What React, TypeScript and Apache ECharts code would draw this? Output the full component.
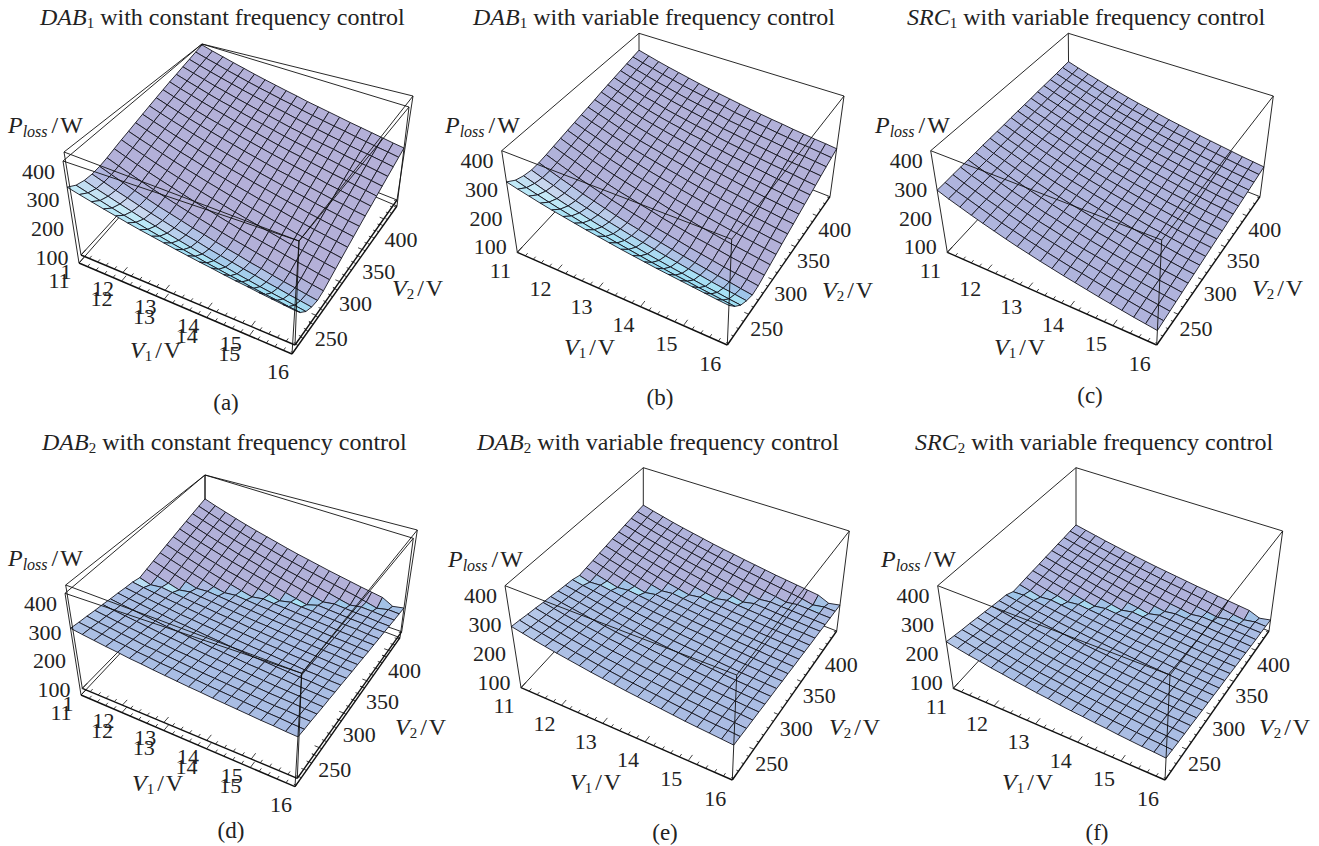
import React, { useEffect, useRef } from "react";
import * as echarts from "echarts";

const V1_TICKS = [11, 12, 13, 14, 15, 16];
const V2_TICKS = [250, 300, 350, 400];
const P_TICKS = [100, 200, 300, 400];
const V1_RANGE = [11, 16];
const V2_RANGE = [208, 432];
const P_RANGE = [77, 432];

const LOSS_A = [
[341,322,313,310,312,318,326,334,341,349,357,365,373,381,389,396,404,412,420,428],
[330,310,299,296,297,303,311,319,327,335,343,351,359,367,375,383,391,399,407,415],
[320,298,287,282,283,289,297,305,314,322,330,338,346,355,363,371,379,387,396,404],
[310,287,275,270,270,276,284,292,301,309,317,326,334,342,351,359,367,376,384,393],
[301,277,264,258,258,263,272,280,289,297,306,314,323,331,340,348,357,366,374,383],
[292,268,253,247,246,252,261,269,278,287,295,304,313,321,330,339,347,356,364,373],
[284,259,244,237,236,241,250,259,268,276,285,294,303,312,320,329,338,347,355,364],
[277,251,235,227,226,231,240,249,258,267,276,285,294,302,311,320,329,338,347,356],
[270,243,226,218,216,222,231,240,249,258,267,276,285,294,303,312,321,330,339,348],
[263,236,218,210,208,213,222,231,240,249,259,268,277,286,295,304,313,323,332,341],
[257,229,210,201,199,204,213,223,232,241,250,259,269,278,287,296,305,315,324,333],
[251,222,203,194,191,196,205,215,224,233,243,252,261,271,280,289,299,308,317,327],
[246,216,197,187,184,189,198,208,217,227,236,245,255,264,274,283,292,302,311,321],
[240,210,190,180,176,182,191,201,210,220,229,239,248,258,267,277,286,296,305,315],
[235,205,184,174,170,175,185,194,204,213,223,233,242,252,261,271,281,290,300,309],
[231,199,178,167,163,168,178,187,197,207,216,226,236,245,255,265,274,284,294,304],
[226,194,173,162,157,162,172,182,191,201,211,221,230,240,250,259,269,279,289,299],
[222,190,168,156,152,157,167,177,186,196,206,216,226,235,245,255,265,275,284,294],
[218,185,163,151,146,151,161,171,181,191,201,210,220,230,240,250,260,270,280,289],
[214,181,158,146,141,146,156,166,176,186,196,206,216,225,235,245,255,265,275,285],
];
const LOSS_B = [
[323,303,293,288,289,293,298,303,308,313,318,323,328,334,339,344,349,354,359,364],
[313,292,281,275,275,279,284,289,295,300,305,311,316,321,327,332,337,343,348,354],
[304,282,269,263,262,266,272,277,283,288,294,300,305,311,316,322,328,333,339,344],
[295,272,258,251,250,253,259,265,271,276,282,288,294,300,306,311,317,323,329,335],
[287,263,248,240,238,242,248,254,260,266,272,278,284,290,296,303,309,315,321,327],
[280,255,239,230,228,231,237,243,250,256,262,268,275,281,287,293,300,306,312,319],
[273,247,230,221,218,221,227,234,240,247,253,260,266,273,279,285,292,298,305,311],
[266,239,222,212,208,212,219,225,232,238,245,252,258,265,272,278,285,291,298,304],
[260,232,214,204,199,203,210,217,224,230,237,244,251,258,264,271,278,285,292,298],
[254,226,207,196,191,195,202,209,216,223,230,237,244,251,258,265,272,279,286,292],
[248,220,200,189,184,186,193,200,207,215,222,229,236,243,250,257,264,271,278,286],
[243,214,193,182,177,179,186,193,201,208,215,222,230,237,244,251,259,266,273,280],
[238,208,187,175,170,172,179,187,194,201,209,216,224,231,238,246,253,261,268,275],
[233,203,181,169,163,165,172,180,188,195,203,210,218,225,233,240,248,255,263,270],
[229,198,176,163,157,159,167,174,182,189,197,205,212,220,228,235,243,251,258,266],
[225,194,170,158,151,153,161,168,176,184,192,199,207,215,223,230,238,246,254,261],
[221,189,165,152,145,147,155,163,171,178,186,194,202,210,218,226,233,241,249,257],
[217,185,161,147,140,142,150,158,166,174,182,190,198,206,214,222,230,238,246,253],
[213,181,156,143,134,137,145,153,161,169,177,185,193,201,209,217,226,234,242,250],
[210,177,152,138,129,132,140,148,156,165,173,181,189,197,205,213,222,230,238,246],
];
const LOSS_C = [
[294,295,297,298,299,300,302,303,304,305,307,308,309,310,312,313,314,315,317,318],
[279,280,282,283,285,286,287,289,290,292,293,295,296,297,299,300,302,303,304,306],
[266,268,269,271,272,274,275,277,278,280,282,283,285,286,288,289,291,292,294,295],
[253,255,256,258,260,261,263,265,266,268,270,271,273,275,277,278,280,282,283,285],
[241,243,245,246,248,250,252,254,255,257,259,261,263,264,266,268,270,272,273,275],
[230,231,233,235,237,239,241,243,245,247,249,251,252,254,256,258,260,262,264,266],
[219,221,223,225,227,229,231,233,235,237,239,241,243,245,247,249,251,253,255,257],
[209,211,213,215,217,220,222,224,226,228,230,232,234,236,239,241,243,245,247,249],
[200,202,204,207,209,211,213,216,218,220,222,224,227,229,231,233,235,238,240,242],
[191,193,196,198,200,202,205,207,209,212,214,216,218,221,223,225,228,230,232,235],
[183,185,188,190,193,195,197,200,202,204,207,209,212,214,216,219,221,223,226,228],
[175,177,180,182,185,187,190,192,195,197,200,202,205,207,209,212,214,217,219,222],
[168,171,173,176,178,181,183,186,188,191,193,196,198,201,203,206,208,211,214,216],
[161,164,166,169,171,174,177,179,182,184,187,190,192,195,197,200,203,205,208,210],
[154,157,159,162,165,167,170,173,175,178,181,183,186,189,191,194,197,199,202,205],
[148,151,153,156,159,162,164,167,170,173,175,178,181,183,186,189,192,194,197,200],
[142,145,148,150,153,156,159,162,164,167,170,173,175,178,181,184,187,189,192,195],
[136,139,142,145,147,150,153,156,159,162,165,167,170,173,176,179,182,184,187,190],
[131,134,137,140,143,146,148,151,154,157,160,163,166,169,172,175,177,180,183,186],
[126,129,132,135,138,141,144,147,150,153,156,158,161,164,167,170,173,176,179,182],
];
const LOSS_D = [
[310,305,301,296,292,287,283,278,274,266,273,280,287,294,301,308,315,322,329,336],
[303,299,294,290,285,281,277,272,268,254,261,268,275,281,288,295,302,309,316,322],
[297,293,289,284,280,276,272,267,263,259,250,257,263,270,277,283,290,297,303,310],
[291,287,283,279,275,271,267,262,258,254,239,246,252,259,265,272,278,285,291,298],
[286,282,278,274,270,266,262,258,254,250,246,235,242,248,255,261,268,274,281,287],
[280,276,272,269,265,261,257,253,250,246,242,238,231,238,244,251,257,264,270,277],
[276,272,269,265,261,258,254,250,246,243,239,235,223,229,236,242,249,255,262,268],
[271,267,264,260,257,253,250,246,242,239,235,232,228,220,227,233,240,246,253,259],
[267,264,260,257,253,250,246,243,239,236,232,229,225,212,218,225,231,237,244,250],
[263,260,256,253,249,246,243,239,236,233,229,226,222,219,210,216,223,229,236,242],
[259,256,252,249,246,243,239,236,233,229,226,223,220,216,202,208,215,222,228,235],
[256,252,249,246,243,240,236,233,230,227,224,220,217,214,211,200,207,214,221,228],
[252,249,246,243,240,236,233,230,227,224,221,218,215,212,208,192,199,207,214,221],
[249,246,243,240,237,234,231,228,225,222,219,216,213,210,207,204,192,200,207,215],
[246,243,240,237,234,231,228,225,222,219,216,214,211,208,205,202,199,192,200,209],
[243,240,237,234,231,229,226,223,220,217,214,211,208,206,203,200,197,185,194,203],
[240,237,234,232,229,226,223,220,218,215,212,209,206,203,201,198,195,192,186,198],
[238,235,233,230,227,224,222,219,216,213,211,208,205,202,200,197,194,191,178,193],
[235,232,230,227,224,222,219,216,213,211,208,205,203,200,197,195,192,189,187,175],
[233,230,228,225,222,220,217,215,212,209,207,204,201,199,196,194,191,188,186,183],
];
const LOSS_E = [
[290,286,281,277,272,268,263,259,255,246,250,253,257,260,264,267,271,274,278,281],
[282,277,273,269,265,261,257,253,248,236,239,243,246,250,254,257,261,264,268,271],
[274,270,266,262,258,255,251,247,243,239,230,233,237,240,244,248,251,255,258,262],
[267,263,260,256,252,249,245,241,238,234,221,224,228,232,235,239,243,246,250,253],
[260,257,253,250,246,243,239,236,232,229,225,215,219,223,227,231,234,238,242,245],
[254,250,247,244,241,237,234,231,228,224,221,207,211,215,219,223,227,230,234,238],
[248,245,242,238,235,232,229,226,223,220,217,214,203,207,211,215,219,223,227,231],
[242,239,236,233,231,228,225,222,219,216,213,210,208,200,204,208,212,216,220,224],
[237,234,232,229,226,223,221,218,215,213,210,207,204,193,197,201,206,210,214,218],
[232,229,227,224,222,219,217,214,212,209,207,204,201,199,190,195,199,204,208,213],
[227,225,222,220,217,215,213,210,208,205,203,201,198,196,184,189,193,198,202,207],
[223,221,219,216,214,212,210,207,205,203,200,198,196,194,192,183,187,192,197,202],
[219,217,215,213,211,208,206,204,202,200,198,196,194,191,189,176,181,187,192,197],
[215,213,211,209,207,205,203,201,199,197,195,193,191,189,187,185,176,181,187,192],
[211,209,207,205,204,202,200,198,196,194,192,190,189,187,185,183,181,176,182,188],
[207,206,204,202,200,199,197,195,193,192,190,188,186,185,183,181,179,170,177,184],
[204,202,201,199,197,196,194,192,191,189,188,186,184,183,181,179,178,176,172,180],
[201,199,198,196,195,193,192,190,189,187,185,184,182,181,179,178,176,175,165,176],
[198,197,195,194,192,191,189,188,186,185,183,182,181,179,178,176,175,173,172,161],
[195,194,192,191,190,188,187,186,184,183,181,180,179,177,176,175,173,172,171,169],
];
const LOSS_F = [
[238,233,228,224,219,214,209,204,200,187,188,190,191,192,194,195,197,198,200,201],
[230,226,221,216,212,207,203,198,194,189,180,181,183,184,186,187,189,190,192,194],
[223,219,214,210,206,201,197,193,189,184,172,173,175,176,178,180,181,183,185,187],
[217,213,209,205,201,197,193,188,184,180,176,167,168,170,172,173,175,177,178,180],
[210,207,203,199,195,191,187,183,180,176,172,159,161,163,165,167,168,170,172,174],
[205,201,197,194,190,186,183,179,175,172,168,164,154,156,158,160,162,164,166,168],
[199,196,192,189,185,182,178,175,171,168,164,161,148,150,152,154,157,159,161,163],
[194,191,187,184,181,177,174,171,168,164,161,158,154,144,146,148,151,153,156,158],
[189,186,183,180,176,173,170,167,164,161,158,154,151,138,141,143,146,148,151,153],
[185,182,179,176,173,170,167,164,161,158,155,152,149,146,136,138,141,144,146,149],
[180,178,175,172,169,166,163,161,158,155,152,149,146,143,130,133,136,139,142,145],
[176,174,171,168,166,163,160,158,155,152,149,147,144,141,139,128,131,134,138,141],
[173,170,168,165,162,160,157,155,152,150,147,144,142,139,137,134,127,130,134,137],
[169,167,164,162,159,157,154,152,149,147,145,142,140,137,135,132,122,126,130,134],
[166,163,161,159,156,154,152,149,147,145,142,140,138,135,133,131,128,121,125,130],
[162,160,158,156,153,151,149,147,145,142,140,138,136,133,131,129,127,116,121,127],
[159,157,155,153,151,148,146,144,142,140,138,136,134,131,129,127,125,123,116,124],
[156,154,152,150,148,146,144,142,140,138,136,134,132,130,128,126,124,122,112,121],
[154,152,150,148,146,144,142,140,138,136,134,132,130,128,126,125,123,121,119,108],
[151,149,147,145,144,142,140,138,136,134,133,131,129,127,125,123,121,120,118,116],
];

type Pt = [number, number];
const PANELS: any[] = [
  { data: LOSS_A, title: ["DAB", "1", " with constant frequency control"], tx: 40, ty: 17, cap: "(a)", cx: 226, cy: 402,
    boxes: [
      { TL: [64, 152], TB: [202, 44], TR: [413, 96], TF: [299, 241], BL: [81, 255], BF: [295, 345], BR: [397, 200], BB: [202, 123] },
      { TL: [63, 161], TB: [202, 44], TR: [409, 107], TF: [299, 241], BL: [79, 263], BF: [292, 354], BR: [397, 206], BB: [202, 123] },
    ], pl: [45, 125], v1l: [153, 350], v2l: [415, 288], dbl: true },
  { data: LOSS_B, title: ["DAB", "1", " with variable frequency control"], tx: 473, ty: 17, cap: "(b)", cx: 660, cy: 397,
    boxes: [{ TL: [501.7, 150.7], TB: [639, 33.3], TR: [844, 96], TF: [731.7, 239.3], BL: [517.3, 252.3], BF: [727.3, 345], BR: [830, 196.7], BB: [639, 121.7] }],
    pl: [482, 125], v1l: [587, 347], v2l: [845, 290] },
  { data: LOSS_C, title: ["SRC", "1", " with variable frequency control"], tx: 907, ty: 17, cap: "(c)", cx: 1090, cy: 395,
    boxes: [{ TL: [930.7, 150.7], TB: [1068.3, 33.3], TR: [1273.3, 96], TF: [1161.7, 240], BL: [947.3, 252.3], BF: [1156.7, 345], BR: [1260, 196.7], BB: [1069, 121.7] }],
    pl: [912, 125], v1l: [1017, 347], v2l: [1275, 288] },
  { data: LOSS_D, title: ["DAB", "2", " with constant frequency control"], tx: 42, ty: 442, cap: "(d)", cx: 231, cy: 830,
    boxes: [
      { TL: [65.7, 585], TB: [205, 475], TR: [417.3, 530], TF: [301.7, 673.3], BL: [82.3, 688.3], BF: [297.3, 778.3], BR: [401.7, 631.7], BB: [205, 563.3] },
      { TL: [65, 593.3], TB: [205, 475], TR: [413.3, 538.3], TF: [301.7, 673.3], BL: [81, 695], BF: [295, 786.7], BR: [400, 637.7], BB: [205, 563.3] },
    ], pl: [45, 558], v1l: [155, 783], v2l: [418, 727], dbl: true },
  { data: LOSS_E, title: ["DAB", "2", " with variable frequency control"], tx: 477, ty: 442, cap: "(e)", cx: 665, cy: 832,
    boxes: [{ TL: [505, 585.7], TB: [643.3, 467.7], TR: [849.3, 531], TF: [736.7, 675], BL: [521, 687.7], BF: [732.3, 780], BR: [836.7, 631], BB: [643.3, 555.7] }],
    pl: [485, 559], v1l: [593, 782], v2l: [852, 727] },
  { data: LOSS_F, title: ["SRC", "2", " with variable frequency control"], tx: 915, ty: 442, cap: "(f)", cx: 1097, cy: 832,
    boxes: [{ TL: [937.7, 585.7], TB: [1076, 467.7], TR: [1282.7, 531], TF: [1170, 675], BL: [953.3, 688.3], BF: [1165, 780], BR: [1269, 631], BB: [1076, 555.7] }],
    pl: [918, 559], v1l: [1025, 782], v2l: [1282, 727] },
];

function homography(q0: Pt, q1: Pt, q2: Pt, q3: Pt) {
  const [x0, y0] = q0, [x1, y1] = q1, [x2, y2] = q2, [x3, y3] = q3;
  const dx1 = x1 - x2, dx2 = x3 - x2, sx = x0 - x1 + x2 - x3;
  const dy1 = y1 - y2, dy2 = y3 - y2, sy = y0 - y1 + y2 - y3;
  const den = dx1 * dy2 - dx2 * dy1;
  const g = (sx * dy2 - dx2 * sy) / den, h = (dx1 * sy - sx * dy1) / den;
  const a = x1 - x0 + g * x1, b = x3 - x0 + h * x3, d = y1 - y0 + g * y1, e = y3 - y0 + h * y3;
  return (u: number, v: number): Pt => {
    const w = g * u + h * v + 1;
    return [(a * u + b * v + x0) / w, (d * u + e * v + y0) / w];
  };
}
function projector(box: any) {
  const bot = homography(box.BL, box.BF, box.BR, box.BB);
  const top = homography(box.TL, box.TF, box.TR, box.TB);
  return (V1: number, V2: number, P: number): Pt => {
    const u = (V1 - V1_RANGE[0]) / (V1_RANGE[1] - V1_RANGE[0]);
    const v = (V2 - V2_RANGE[0]) / (V2_RANGE[1] - V2_RANGE[0]);
    const w = (P - P_RANGE[0]) / (P_RANGE[1] - P_RANGE[0]);
    const b = bot(u, v), t = top(u, v);
    return [b[0] + (t[0] - b[0]) * w, b[1] + (t[1] - b[1]) * w];
  };
}
const STOPS: [number, number[]][] = [
  [-26, [152, 222, 244]], [-10, [168, 224, 244]], [-7, [158, 196, 232]], [-5.5, [168, 192, 229]], [-1, [170, 188, 227]], [1, [175, 181, 222]], [3.5, [176, 178, 218]], [8, [180, 176, 216]],
];
function shade(s: number, di: number) {
  let c = STOPS[STOPS.length - 1][1];
  if (s <= STOPS[0][0]) c = STOPS[0][1];
  else for (let k = 1; k < STOPS.length; k++) {
    if (s <= STOPS[k][0]) {
      const t = (s - STOPS[k - 1][0]) / (STOPS[k][0] - STOPS[k - 1][0]);
      c = c.map((_, n) => STOPS[k - 1][1][n] + (STOPS[k][1][n] - STOPS[k - 1][1][n]) * t);
      break;
    }
  }
  const pale = Math.min(1, Math.max(0, (-di - 4.5) / 4)) * Math.min(1, Math.max(0, (1 - s) / 5)) * 0.35;
  return `rgb(${c.map((x) => Math.round(x + (255 - x) * pale)).join(",")})`;
}
const SERIF = '"Liberation Serif"';
const FS = 24;
const TICK_FS = 22;
const INK = "#222";
const ctx = document.createElement("canvas").getContext("2d")!;
function parts(x: number, y: number, list: [string, number, boolean, number, number][]) {
  let cur = x;
  return list.map(([text, size, italic, dy, gap]) => {
    const font = `${italic ? "italic " : ""}${size}px ${SERIF}`;
    ctx.font = font;
    cur += gap;
    const el = { type: "text", z: 10, silent: true, x: cur, y: y + dy, style: { text, fontFamily: SERIF, fontSize: size, fontStyle: italic ? "italic" : "normal", fill: INK, textAlign: "left", textVerticalAlign: "middle" } };
    cur += ctx.measureText(text).width;
    return el;
  });
}
function centered(cx: number, cy: number, text: string, size = TICK_FS) {
  return { type: "text", z: 10, silent: true, x: cx, y: cy, style: { text, fontFamily: SERIF, fontSize: size, fill: INK, textAlign: "center", textVerticalAlign: "middle" } };
}
function buildGraphic() {
  const out: any[] = [];
  PANELS.forEach((p) => {
    out.push(...parts(p.tx, p.ty, [[p.title[0], FS, true, 0, 0], [p.title[1], 15, false, 6, 0], [p.title[2], FS, false, 0, 0]]));
    out.push(centered(p.cx, p.cy, p.cap, 23));
    out.push(...parts(p.pl[0] - 37, p.pl[1], [["P", FS, true, 0, 0], ["loss", 16, true, 6, 0], ["/", FS, false, 0, 4], ["W", FS, false, 0, 2]]));
    out.push(...parts(p.v1l[0] - 23, p.v1l[1], [["V", FS, true, 0, 0], ["1", 15, false, 6, 0], ["/", FS, false, 0, 3], ["V", FS, false, 0, 2]]));
    out.push(...parts(p.v2l[0] - 23, p.v2l[1], [["V", FS, true, 0, 0], ["2", 15, false, 6, 0], ["/", FS, false, 0, 3], ["V", FS, false, 0, 2]]));
    const prj = projector(p.boxes[p.boxes.length - 1]);
    V1_TICKS.forEach((t) => {
      const q = prj(t, V2_RANGE[0], P_RANGE[0]);
      const dx = p.dbl ? (t === 16 ? -14 : -20) : -17;
      const dy = p.dbl ? 17.5 : 18;
      out.push(centered(q[0] + dx, q[1] + dy, String(t)));
      if (p.dbl && t === 11) out.push(centered(q[0] + dx + 7, q[1] + dy - 9, "1"));
      else if (p.dbl && t < 16) out.push(centered(q[0] + dx + 1.5, q[1] + dy - 10, String(t)));
    });
    V2_TICKS.forEach((t) => {
      const q = prj(V1_RANGE[1], t, P_RANGE[0]);
      out.push(centered(q[0] + 18, q[1] + 14, String(t)));
    });
    P_TICKS.forEach((t) => {
      const q = prj(V1_RANGE[0], V2_RANGE[0], t);
      out.push(centered(q[0] - 26, q[1] + 1, String(t)));
    });
  });
  return out;
}
function edgeList(box: any, kind: "back" | "front") {
  const e: [string, string][] = kind === "back"
    ? [["TL", "TB"], ["TB", "TR"], ["TB", "BB"], ["BL", "BB"], ["BB", "BR"]]
    : [["TL", "TF"], ["TF", "TR"], ["TL", "BL"], ["TF", "BF"], ["TR", "BR"], ["BL", "BF"], ["BF", "BR"]];
  return e.map(([a, b]) => [box[a][0], box[a][1], box[b][0], box[b][1], a + b === "BLBF" || a + b === "BFBR" ? 1.4 : 0.9]);
}
function tickMarks(box: any) {
  const prj = projector(box);
  const out: number[][] = [];
  for (let k = 0; k <= 25; k++) {
    const t = V1_RANGE[0] + k * 0.2;
    const a = prj(t, V2_RANGE[0], P_RANGE[0]), b = prj(t, V2_RANGE[0] + (k % 5 === 0 ? 8 : 4), P_RANGE[0]);
    out.push([a[0], a[1], b[0], b[1], 0.8]);
  }
  for (let t = 210; t <= 430; t += 10) {
    const a = prj(V1_RANGE[1], t, P_RANGE[0]), b = prj(V1_RANGE[1] - (t % 50 === 0 ? 0.1 : 0.05), t, P_RANGE[0]);
    out.push([a[0], a[1], b[0], b[1], 0.8]);
  }
  return out;
}
function buildSeries() {
  const series: any[] = [];
  const lines = (data: any[], z: number) => ({
    type: "custom", coordinateSystem: "cartesian2d", silent: true, z, clip: false, data,
    renderItem: (_: any, api: any) => {
      const a = api.coord([api.value(0), api.value(1)]), b = api.coord([api.value(2), api.value(3)]);
      return { type: "line", shape: { x1: a[0], y1: a[1], x2: b[0], y2: b[1] }, style: { stroke: "#111", lineWidth: api.value(4), fill: null } };
    },
  });
  PANELS.forEach((p) => {
    const back: any[] = [], front: any[] = [];
    p.boxes.forEach((b: any) => { back.push(...edgeList(b, "back")); front.push(...edgeList(b, "front"), ...tickMarks(b)); });
    series.push(lines(back, 1));
    const M: number[][] = p.data;
    const n = M.length, m = M[0].length;
    const prj = projector(p.boxes[p.boxes.length - 1]);
    const V1at = (i: number) => V1_RANGE[0] + ((V1_RANGE[1] - V1_RANGE[0]) * i) / (n - 1);
    const V2at = (j: number) => V2_RANGE[0] + ((V2_RANGE[1] - V2_RANGE[0]) * j) / (m - 1);
    const norm = (m - 1) / 24;
    const quads: number[][] = [];
    for (let j = m - 2; j >= 0; j--) for (let i = 0; i < n - 1; i++) quads.push([i, j]);
    series.push({
      type: "custom", coordinateSystem: "cartesian2d", silent: true, z: 2, clip: false, data: quads,
      renderItem: (_: any, api: any) => {
        const i = api.value(0), j = api.value(1);
        const pts = [[i, j], [i + 1, j], [i + 1, j + 1], [i, j + 1]].map(([a, b]) => api.coord(prj(V1at(a), V2at(b), M[a][b])));
        const s1 = (M[i][j + 1] - M[i][j]) * norm, s2 = (M[i + 1][j + 1] - M[i + 1][j]) * norm;
        const low = Math.min(s1, s2), mean = (s1 + s2) / 2;
        const sj = low < -6 && Math.max(s1, s2) > -1 ? 0.3 * mean + 0.7 * low : mean;
        const si = ((M[i + 1][j] - M[i][j] + M[i + 1][j + 1] - M[i][j + 1]) / 2) * norm;
        return { type: "polygon", shape: { points: pts }, style: { fill: shade(sj, si), stroke: "#15151f", lineWidth: 0.9 } };
      },
    });
    series.push(lines(front, 3));
  });
  return series;
}
export default function App() {
  const ref = useRef<HTMLDivElement>(null);
  useEffect(() => {
    const chart = echarts.init(ref.current!, undefined, { renderer: "svg" });
    chart.setOption({
      animation: false,
      backgroundColor: "#fff",
      grid: { left: 0, top: 0, width: 1319, height: 846 },
      xAxis: { type: "value", min: 0, max: 1319, show: false },
      yAxis: { type: "value", min: 0, max: 846, inverse: true, show: false },
      series: buildSeries(),
      graphic: { elements: buildGraphic() },
    });
    return () => chart.dispose();
  }, []);
  return <div ref={ref} style={{ position: "fixed", left: 0, top: 0, width: 1319, height: 846 }} />;
}
